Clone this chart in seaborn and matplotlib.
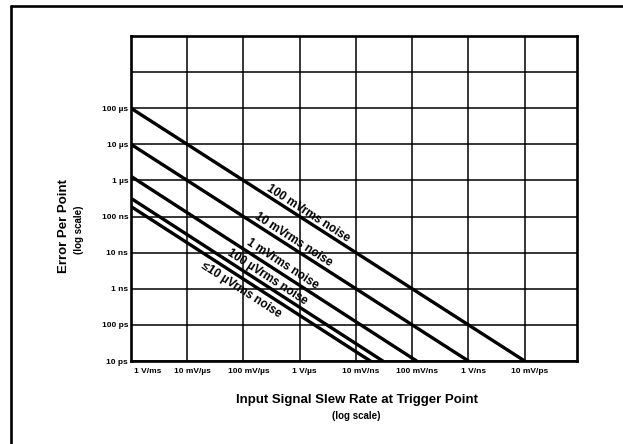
import numpy as np
import pandas as pd
import matplotlib
matplotlib.use('Agg')
import matplotlib.pyplot as plt
from matplotlib.lines import Line2D
from matplotlib.ticker import NullLocator
from matplotlib.transforms import ScaledTranslation
import seaborn as sns

# noise curves: error per point vs input slew rate (log-log)
noise_labels = ['100 mVrms noise', '10 mVrms noise', '1 mVrms noise',
                '100 \u00b5Vrms noise', '\u226410 \u00b5Vrms noise']
start_slew = 1e3            # 1 V/ms, left edge
start_error = [1e-4, 1e-5, 1.3e-6, 3.2e-7, 1.9e-7]   # seconds at 1 V/ms
end_error = 1e-11           # 10 ps, bottom edge
end_slew = [1e10, 1e9, 1.2e8, 3.0e7, 1.8e7]          # V/s where line hits 10 ps
label_slew = [1.2e6, 6.5e5, 4.1e5, 2.2e5, 1.15e5]    # where each label sits
label_side = [7.5, 7.5, 8.5, 7.5, -11.0]             # px off the line (+ above)

x_ticks = [1e3, 1e4, 1e5, 1e6, 1e7, 1e8, 1e9, 1e10]
x_ticklabels = ['1 V/ms', '10 mV/\u00b5s', '100 mV/\u00b5s', '1 V/\u00b5s',
                '10 mV/ns', '100 mV/ns', '1 V/ns', '10 mV/ps']
y_ticks = [1e-11, 1e-10, 1e-9, 1e-8, 1e-7, 1e-6, 1e-5, 1e-4, 1e-3]
y_ticklabels = ['10 ps', '100 ps', '1 ns', '10 ns', '100 ns', '1 \u00b5s',
                '10 \u00b5s', '100 \u00b5s', '']

sns.set_style('white')
plt.rcParams['font.family'] = ['Liberation Sans', 'DejaVu Sans']
plt.rcParams['font.weight'] = 'bold'
for k in ['text.color', 'xtick.color', 'ytick.color', 'axes.labelcolor']:
    plt.rcParams[k] = 'black'

rows = []
for name, e0, s1 in zip(noise_labels, start_error, end_slew):
    rows.append({'noise': name, 'slew': start_slew, 'error': e0})
    rows.append({'noise': name, 'slew': s1, 'error': end_error})
df = pd.DataFrame(rows)

W, H = 623, 444
fig, ax = plt.subplots(figsize=(W / 100, H / 100), dpi=100)
fig.subplots_adjust(left=131 / W, right=577 / W, top=1 - 36 / H, bottom=1 - 361 / H)

ax.set_xscale('log')
ax.set_yscale('log')
sns.lineplot(data=df, x='slew', y='error', hue='noise', palette=['black'] * 5,
             lw=2.4, legend=False, ax=ax, sort=False, estimator=None)
ax.set_xlim(1e3, 10 ** 10.93)
ax.set_ylim(1e-11, 1e-2)

ax.set_xticks(x_ticks)
ax.set_xticklabels(x_ticklabels)
ax.set_yticks(y_ticks)
ax.set_yticklabels(y_ticklabels)
ax.xaxis.set_minor_locator(NullLocator())
ax.yaxis.set_minor_locator(NullLocator())
ax.tick_params(axis='both', length=0, labelsize=6, colors='black')
ax.tick_params(axis='x', pad=5)
ax.tick_params(axis='y', pad=2)
for i, t in enumerate(ax.get_xticklabels()):
    t.set_fontweight('bold')
    if i == 0:
        t.set_ha('left')
        t.set_transform(t.get_transform() + ScaledTranslation(0.03, 0, fig.dpi_scale_trans))
    else:
        t.set_transform(t.get_transform() + ScaledTranslation(0.05, 0, fig.dpi_scale_trans))
for t in ax.get_yticklabels():
    t.set_fontweight('bold')

ax.grid(True, which='major', color='black', lw=1.1)
for sp in ax.spines.values():
    sp.set_visible(True)
    sp.set_color('black')
    sp.set_linewidth(1.9)
ax.set_xlabel('')
ax.set_ylabel('')

# labels along the lines
for name, e0, s1, xs, off in zip(noise_labels, start_error, end_slew, label_slew, label_side):
    p0 = ax.transData.transform((start_slew, e0))
    p1 = ax.transData.transform((s1, end_error))
    ang = np.degrees(np.arctan2(p1[1] - p0[1], p1[0] - p0[0]))
    t = (np.log10(xs) - np.log10(start_slew)) / (np.log10(s1) - np.log10(start_slew))
    ys = 10 ** (np.log10(e0) + t * (np.log10(end_error) - np.log10(e0)))
    nx, ny = -np.sin(np.radians(ang)), np.cos(np.radians(ang))
    ax.annotate(name, (xs, ys), xytext=(nx * off, ny * off), textcoords='offset pixels',
                rotation=ang, rotation_mode='anchor', ha='center', va='center',
                fontsize=8.5, fontweight='bold', color='black')

fig.text(64 / W, 1 - 226 / H, 'Error Per Point', rotation=90, ha='center', va='center',
         fontsize=9.5, fontweight='bold')
fig.text(79 / W, 1 - 230 / H, '(log scale)', rotation=90, ha='center', va='center',
         fontsize=7, fontweight='bold')
fig.text(357 / W, 1 - 400 / H, 'Input Signal Slew Rate at Trigger Point', ha='center',
         va='center', fontsize=9.5, fontweight='bold')
fig.text(356 / W, 1 - 416 / H, '(log scale)', ha='center', va='center',
         fontsize=7, fontweight='bold')

# outer frame (top and left edges)
fig.add_artist(Line2D([11 / W, 1], [1 - 6 / H, 1 - 6 / H], color='black', lw=1.9,
                      transform=fig.transFigure))
fig.add_artist(Line2D([11 / W, 11 / W], [0, 1 - 6 / H], color='black', lw=1.9,
                      transform=fig.transFigure))

fig.savefig('out.png', dpi=100)
